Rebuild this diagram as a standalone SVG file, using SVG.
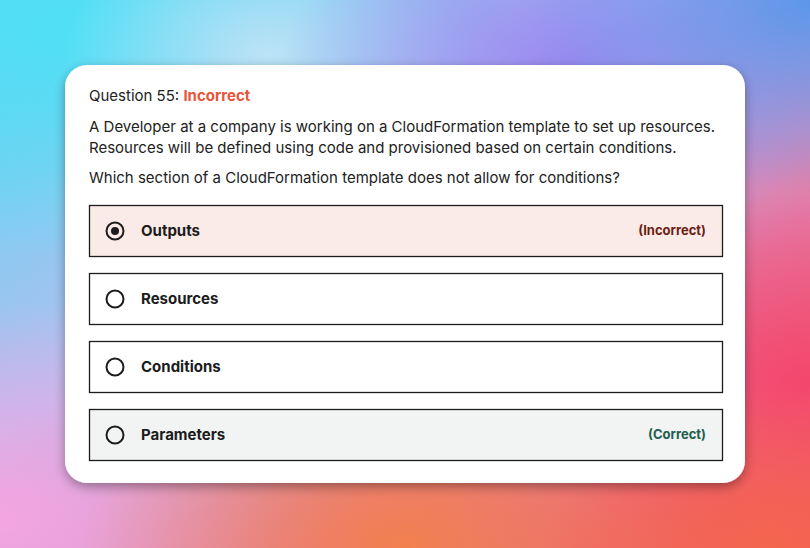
<svg xmlns="http://www.w3.org/2000/svg" width="810" height="548" viewBox="0 0 810 548">
<defs>
<linearGradient id="bg" x1="0" y1="0" x2="1" y2="1">
<stop offset="0" stop-color="#5ad6f2"/>
<stop offset="0.4" stop-color="#b4bff0"/>
<stop offset="0.7" stop-color="#e37aa6"/>
<stop offset="1" stop-color="#f2585a"/>
</linearGradient>
<radialGradient id="g1" cx="0.08" cy="0.05" r="0.42">
<stop offset="0" stop-color="#50e0f6" stop-opacity="1"/>
<stop offset="1" stop-color="#50e0f6" stop-opacity="0"/>
</radialGradient>
<radialGradient id="g0" cx="0.33" cy="0.1" r="0.25">
<stop offset="0" stop-color="#c4e4f6" stop-opacity="0.9"/>
<stop offset="1" stop-color="#c4e4f6" stop-opacity="0"/>
</radialGradient>
<radialGradient id="g2" cx="0.7" cy="0.12" r="0.35">
<stop offset="0" stop-color="#9a88f0" stop-opacity="1"/>
<stop offset="1" stop-color="#9a88f0" stop-opacity="0"/>
</radialGradient>
<radialGradient id="g2b" cx="1" cy="0" r="0.35">
<stop offset="0" stop-color="#5c96ea" stop-opacity="1"/>
<stop offset="1" stop-color="#5c96ea" stop-opacity="0"/>
</radialGradient>
<radialGradient id="g3" cx="0" cy="0.95" r="0.4">
<stop offset="0" stop-color="#f4a4e0" stop-opacity="1"/>
<stop offset="1" stop-color="#f4a4e0" stop-opacity="0"/>
</radialGradient>
<radialGradient id="g4" cx="0.5" cy="1" r="0.4">
<stop offset="0" stop-color="#f2804e" stop-opacity="1"/>
<stop offset="1" stop-color="#f2804e" stop-opacity="0"/>
</radialGradient>
<radialGradient id="g5" cx="1" cy="0.7" r="0.35">
<stop offset="0" stop-color="#f4466e" stop-opacity="1"/>
<stop offset="1" stop-color="#f4466e" stop-opacity="0"/>
</radialGradient>
<radialGradient id="g6" cx="0.95" cy="1" r="0.3">
<stop offset="0" stop-color="#f4664e" stop-opacity="1"/>
<stop offset="1" stop-color="#f4664e" stop-opacity="0"/>
</radialGradient>
<filter id="sh" x="-10%" y="-10%" width="120%" height="130%">
<feGaussianBlur in="SourceAlpha" stdDeviation="6"/>
<feOffset dy="4"/>
<feComponentTransfer><feFuncA type="linear" slope="0.35"/></feComponentTransfer>
<feMerge><feMergeNode/><feMergeNode in="SourceGraphic"/></feMerge>
</filter>
</defs>
<style>
text{font-family:Inter,"Noto Sans","Liberation Sans",sans-serif;}
.body{font-size:15px;fill:#222;}
.opt{stroke:#1c1c1c;stroke-width:1.3;}
.lab{font-size:15px;font-weight:700;fill:#1c1c1c;}
.radio{fill:none;stroke:#1c1c1c;stroke-width:2;}
.tag{font-size:13px;font-weight:700;}
</style>
<rect width="810" height="548" fill="url(#bg)"/>
<rect width="810" height="548" fill="url(#g1)"/>
<rect width="810" height="548" fill="url(#g0)"/>
<rect width="810" height="548" fill="url(#g2)"/>
<rect width="810" height="548" fill="url(#g2b)"/>
<rect width="810" height="548" fill="url(#g3)"/>
<rect width="810" height="548" fill="url(#g4)"/>
<rect width="810" height="548" fill="url(#g5)"/>
<rect width="810" height="548" fill="url(#g6)"/>
<g id="card">
<rect x="65" y="65" width="680" height="418" rx="22" fill="#ffffff" filter="url(#sh)"/>
<text x="89" y="101" class="body" font-size="15.2">Question 55: <tspan font-weight="700" fill="#e8553a">Incorrect</tspan></text>
<text x="89" y="132" class="body">A Developer at a company is working on a CloudFormation template to set up resources.</text>
<text x="89" y="153" class="body">Resources will be defined using code and provisioned based on certain conditions.</text>
<text x="89" y="183" class="body">Which section of a CloudFormation template does not allow for conditions?</text>
</g>
<g id="opt-outputs">
<rect x="89.5" y="205.5" width="633" height="51" fill="#fbebe8" class="opt"/>
<circle cx="115" cy="231" r="8.5" class="radio"/>
<circle cx="115" cy="231" r="4" fill="#1c1c1c"/>
<text x="141" y="236" class="lab">Outputs</text>
<text x="706" y="235" class="tag" fill="#6b1f14" text-anchor="end">(Incorrect)</text>
</g>
<g id="opt-resources">
<rect x="89.5" y="273.5" width="633" height="51" fill="#ffffff" class="opt"/>
<circle cx="115" cy="299" r="8.5" class="radio"/>
<text x="141" y="304" class="lab">Resources</text>
</g>
<g id="opt-conditions">
<rect x="89.5" y="341.5" width="633" height="51" fill="#ffffff" class="opt"/>
<circle cx="115" cy="367" r="8.5" class="radio"/>
<text x="141" y="372" class="lab">Conditions</text>
</g>
<g id="opt-parameters">
<rect x="89.5" y="409.5" width="633" height="51" fill="#f1f4f3" class="opt"/>
<circle cx="115" cy="435" r="8.5" class="radio"/>
<text x="141" y="440" class="lab">Parameters</text>
<text x="706" y="439" class="tag" fill="#1f5f4f" text-anchor="end">(Correct)</text>
</g>
</svg>
